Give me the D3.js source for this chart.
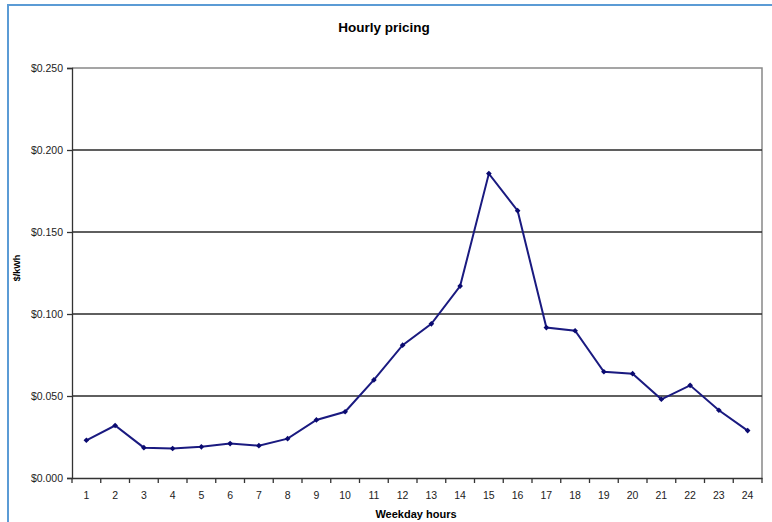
<!DOCTYPE html>
<html>
<head>
<meta charset="utf-8">
<script src="https://cdn.jsdelivr.net/npm/d3@7"></script>
<style>
  body { margin: 0; background: #fff; }
  svg { display: block; font-family: "Liberation Sans", Arial, sans-serif; }
</style>
</head>
<body>
<svg id="chart" width="772" height="522"></svg>
<script>
// Hours of the weekday and the price for each one
const hours = d3.range(1, 25);
const prices = [0.023, 0.032, 0.0185, 0.018, 0.019, 0.021, 0.0197, 0.024,
  0.0354, 0.0404, 0.0598, 0.081, 0.094, 0.117, 0.1856, 0.163,
  0.0917, 0.0898, 0.0648, 0.0636, 0.048, 0.0565, 0.0413, 0.0289];
const yTicks = [0, 0.05, 0.1, 0.15, 0.2, 0.25];

const svg = d3.select("#chart");
const m = { left: 72, right: 762, top: 68, bottom: 478 };

//Scales
const x = d3.scaleBand().domain(hours).range([m.left, m.right]);
const y = d3.scaleLinear().domain([0, 0.25]).range([m.bottom, m.top]);

//Outer blue frame (chart selected look)
svg.append("line").attr("x1", 8).attr("x2", 772).attr("y1", 5).attr("y2", 5)
  .attr("stroke", "#5b9bd5").attr("stroke-width", 2);
svg.append("line").attr("x1", 8).attr("x2", 8).attr("y1", 4).attr("y2", 522)
  .attr("stroke", "#5b9bd5").attr("stroke-width", 2);

//Title
svg.append("text").attr("x", 384).attr("y", 32)
  .attr("text-anchor", "middle").attr("font-weight", "bold").attr("font-size", 13.5)
  .text("Hourly pricing");

//Plot frame (top + right, grey)
svg.append("path")
  .attr("d", `M${m.left},${m.top}H${m.right}V${m.bottom}`)
  .attr("fill", "none").attr("stroke", "#888").attr("stroke-width", 1.5);

//Gridlines
svg.append("g").selectAll("line")
  .data(yTicks.filter(d => d > 0 && d < 0.25))
  .enter().append("line")
  .attr("x1", m.left).attr("x2", m.right)
  .attr("y1", d => y(d)).attr("y2", d => y(d))
  .attr("stroke", "#2a2a2a").attr("stroke-width", 1.4);

//Y axis
const yAxis = svg.append("g")
  .attr("transform", `translate(${m.left},0)`)
  .call(d3.axisLeft(y).tickValues(yTicks).tickSize(5).tickPadding(4)
    .tickFormat(d => "$" + d3.format(".3f")(d)));
yAxis.select(".domain").attr("stroke", "#333").attr("stroke-width", 1.3);
yAxis.selectAll(".tick line").attr("stroke", "#333").attr("stroke-width", 1.3);
yAxis.selectAll("text").attr("font-size", 10.5).attr("fill", "#222")
  .attr("font-family", "Liberation Sans, Arial, sans-serif");

//X axis: ticks sit on the band edges
const xAxis = svg.append("g")
  .attr("transform", `translate(0,${m.bottom})`)
  .call(d3.axisBottom(x).tickSize(0).tickPadding(14));
xAxis.select(".domain").attr("stroke", "#333").attr("stroke-width", 1.3);
xAxis.selectAll("text").attr("font-size", 10.5).attr("fill", "#222")
  .attr("font-family", "Liberation Sans, Arial, sans-serif");
xAxis.selectAll("line.edge")
  .data(d3.range(0, 25))
  .enter().append("line").classed("edge", true)
  .attr("x1", i => m.left + i * x.bandwidth())
  .attr("x2", i => m.left + i * x.bandwidth())
  .attr("y1", 0).attr("y2", 5)
  .attr("stroke", "#333").attr("stroke-width", 1.3);

//Axis titles
svg.append("text").attr("x", 416).attr("y", 518)
  .attr("text-anchor", "middle").attr("font-weight", "bold").attr("font-size", 11)
  .text("Weekday hours");
svg.append("text")
  .attr("transform", "translate(20,268) rotate(-90)")
  .attr("text-anchor", "middle").attr("font-weight", "bold").attr("font-size", 9)
  .text("$/kWh");

//Series
const cx = (_, i) => x(hours[i]) + x.bandwidth() / 2;
svg.append("path")
  .datum(prices)
  .attr("fill", "none").attr("stroke", "#1a1a80").attr("stroke-width", 2)
  .attr("d", d3.line().x(cx).y(d => y(d)));

//Diamond markers (square turned 45 degrees)
svg.append("g").selectAll("path")
  .data(prices)
  .enter().append("path")
  .attr("d", d3.symbol(d3.symbolSquare, 16))
  .attr("transform", (d, i) => `translate(${cx(d, i)},${y(d)}) rotate(45)`)
  .attr("fill", "#0a0a70");
</script>
</body>
</html>
